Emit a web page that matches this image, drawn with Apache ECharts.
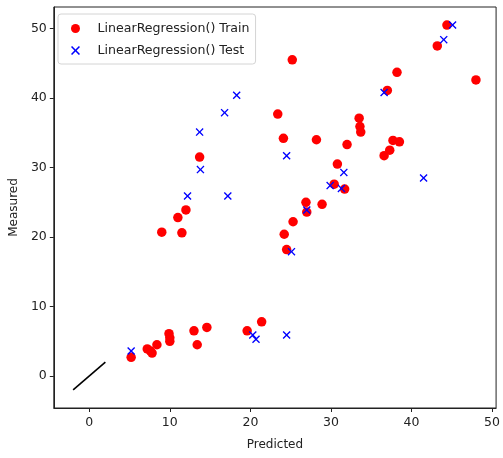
<!DOCTYPE html>
<html>
<head>
<meta charset="utf-8">
<script src="https://cdn.jsdelivr.net/npm/echarts@6/dist/echarts.min.js"></script>
<style>
  html, body { margin: 0; padding: 0; background: #fff; }
  #chart { width: 503px; height: 458px; }
</style>
</head>
<body>
<div id="chart"></div>
<script>
// Training-set predictions [predicted, measured]
const trainPoints = [
  [13.7, 31.5], [12.0, 23.9], [11.0, 22.8], [9.0, 20.7], [11.5, 20.6],
  [5.2, 2.7], [7.2, 3.9], [7.6, 3.6], [7.8, 3.3], [8.4, 4.5],
  [9.9, 6.1], [10.0, 5.5], [10.0, 5.0], [13.0, 6.5], [14.6, 7.0],
  [13.4, 4.5], [19.6, 6.5], [21.4, 7.8], [23.4, 37.7], [24.1, 34.2],
  [28.2, 34.0], [33.5, 37.1], [33.6, 35.9], [33.7, 35.1], [32.0, 33.3],
  [30.8, 30.5], [30.4, 27.6], [31.7, 26.9], [26.9, 25.0], [27.0, 23.6],
  [28.9, 24.7], [25.3, 22.2], [24.2, 20.4], [24.5, 18.2], [44.4, 50.5],
  [43.2, 47.5], [38.2, 43.7], [48.0, 42.6], [37.0, 41.1], [37.7, 33.9],
  [38.5, 33.7], [37.3, 32.5], [36.6, 31.7], [25.2, 45.5]
];

// Test-set predictions [predicted, measured]
const testPoints = [
  [18.3, 40.4], [16.8, 37.9], [13.7, 35.1], [13.8, 29.7], [12.2, 25.9],
  [17.2, 25.9], [5.2, 3.6], [20.3, 5.9], [20.7, 5.3], [24.5, 5.9],
  [24.5, 31.7], [31.6, 29.3], [29.9, 27.4], [31.3, 27.0], [27.0, 23.9],
  [25.1, 17.9], [45.1, 50.5], [44.0, 48.4], [36.6, 40.8], [41.5, 28.5]
];

// Short identity reference segment
const identityLine = [[-2, -2], [2, 2]];

const xTicks = [0, 10, 20, 30, 40, 50];
const yTicks = [0, 10, 20, 30, 40, 50];

const seriesNames = ['LinearRegression() Train', 'LinearRegression() Test'];

// Filled "x" glyph
const crossPath = 'path://M0,1.2L1.2,0L5,3.8L8.8,0L10,1.2L6.2,5L10,8.8L8.8,10L5,6.2L1.2,10L0,8.8L3.8,5Z';

const font = 'DejaVu Sans';
const chart = echarts.init(document.getElementById('chart'), null, { renderer: 'canvas' });

chart.setOption({
  animation: false,
  backgroundColor: '#fff',
  textStyle: { fontFamily: font },
  grid: {
    left: 52, right: 3, top: 7, bottom: 50,
    show: true, borderColor: '#222', borderWidth: 1, containLabel: false
  },
  legend: {
    orient: 'vertical',
    left: 58, top: 14,
    padding: [8, 6, 7, 13],
    itemWidth: 34, itemHeight: 9, itemGap: 9,
    backgroundColor: '#fff',
    borderColor: '#d4d4d4', borderWidth: 1, borderRadius: 3,
    textStyle: { fontFamily: font, fontSize: 12.6, color: '#222' },
    data: [
      { name: seriesNames[0], icon: 'circle' },
      { name: seriesNames[1], icon: crossPath }
    ]
  },
  xAxis: {
    type: 'value',
    min: -4.4, max: 50.5,
    name: 'Predicted', nameLocation: 'middle', nameGap: 31,
    nameTextStyle: { fontFamily: font, fontSize: 12, color: '#222' },
    splitLine: { show: false },
    axisLine: { show: true, onZero: false, lineStyle: { color: '#222', width: 1 } },
    axisTick: { show: true, length: 4, customValues: xTicks, lineStyle: { color: '#222' } },
    axisLabel: { customValues: xTicks, fontFamily: font, fontSize: 12.5, color: '#222', margin: 8 }
  },
  yAxis: {
    type: 'value',
    min: -4.6, max: 53.1,
    name: 'Measured', nameLocation: 'middle', nameGap: 32,
    nameTextStyle: { fontFamily: font, fontSize: 12, color: '#222' },
    splitLine: { show: false },
    axisLine: { show: true, onZero: false, lineStyle: { color: '#222', width: 1 } },
    axisTick: { show: true, length: 4, customValues: yTicks, lineStyle: { color: '#222' } },
    axisLabel: { customValues: yTicks, fontFamily: font, fontSize: 12.5, color: '#222', margin: 7 }
  },
  series: [
    {
      type: 'line',
      data: identityLine,
      showSymbol: false,
      symbol: 'none',
      lineStyle: { color: '#000', width: 1.6 },
      silent: true
    },
    {
      name: seriesNames[0],
      type: 'scatter',
      data: trainPoints,
      symbol: 'circle',
      symbolSize: 9.5,
      itemStyle: { color: '#ff0000', opacity: 1 },
      z: 3
    },
    {
      name: seriesNames[1],
      type: 'scatter',
      data: testPoints,
      symbol: crossPath,
      symbolSize: 8,
      itemStyle: { color: '#0000ff', opacity: 1 },
      z: 4
    }
  ]
});
</script>
</body>
</html>
